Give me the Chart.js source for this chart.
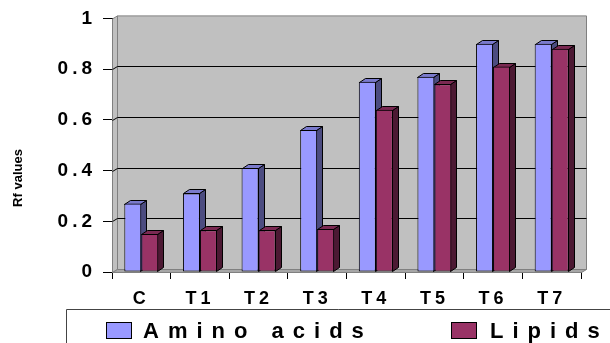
<!DOCTYPE html>
<html>
<head>
<meta charset="utf-8">
<script src="https://cdn.jsdelivr.net/npm/chart.js@4/dist/chart.umd.min.js"></script>
<style>
  html, body { margin: 0; padding: 0; background: #ffffff; }
  #wrap { width: 610px; height: 343px; position: relative; }
</style>
</head>
<body>
<div id="wrap"><canvas id="c" width="610" height="343"></canvas></div>
<script>
// Rf values per treatment
const categories = ['C', 'T1', 'T2', 'T3', 'T4', 'T5', 'T6', 'T7'];
const aminoAcids = [0.27, 0.31, 0.41, 0.56, 0.75, 0.77, 0.90, 0.90];
const lipids     = [0.15, 0.165, 0.165, 0.17, 0.64, 0.74, 0.81, 0.88];
const seriesNames = ['Amino acids', 'Lipids'];
const yTicks = [0, 0.2, 0.4, 0.6, 0.8, 1];

const FONT = '"Liberation Sans", Arial, sans-serif';
const faces = {
  '#9999FF': { side: '#4C4C80', top: '#7A7ACC' },
  '#993366': { side: '#4C1933', top: '#7A2952' }
};
const WALL_DX = 5, WALL_DY = -3;
const BAR_DX = 6, BAR_DY = -4;

function poly(ctx, pts, fill, stroke) {
  ctx.beginPath();
  ctx.moveTo(pts[0][0], pts[0][1]);
  for (let i = 1; i < pts.length; i++) ctx.lineTo(pts[i][0], pts[i][1]);
  ctx.closePath();
  if (fill) { ctx.fillStyle = fill; ctx.fill(); }
  if (stroke) { ctx.strokeStyle = stroke; ctx.lineWidth = 1; ctx.stroke(); }
}

// Walls, floor, gridlines and the 3D sides/tops of the columns
const depthPlugin = {
  id: 'depth',
  beforeDatasetsDraw(chart) {
    const { ctx, chartArea: a, scales: { y } } = chart;
    ctx.save();
    const L = a.left + 0.5, R = a.right + 0.5, T = a.top + 0.5, B = a.bottom + 0.5;
    // side wall
    poly(ctx, [[L, B], [L, T], [L + WALL_DX, T + WALL_DY], [L + WALL_DX, B + WALL_DY]], '#C0C0C0', '#808080');
    // back wall
    poly(ctx, [[L + WALL_DX, T + WALL_DY], [R + WALL_DX, T + WALL_DY], [R + WALL_DX, B + WALL_DY], [L + WALL_DX, B + WALL_DY]], '#C0C0C0', '#808080');
    // floor
    poly(ctx, [[L, B], [L + WALL_DX, B + WALL_DY], [R + WALL_DX, B + WALL_DY], [R, B]], '#A6A6A6', '#808080');
    // gridlines on the back wall
    ctx.strokeStyle = '#000000';
    ctx.lineWidth = 1;
    yTicks.forEach(v => {
      if (v <= 0 || v >= 1) return;
      const py = Math.round(y.getPixelForValue(v)) + 0.5;
      ctx.beginPath();
      ctx.moveTo(L, py);
      ctx.lineTo(L + WALL_DX, py + WALL_DY);
      ctx.lineTo(R + WALL_DX, py + WALL_DY);
      ctx.stroke();
    });
    // column sides and tops, category by category
    const metas = chart.data.datasets.map((d, i) => chart.getDatasetMeta(i));
    categories.forEach((_, idx) => {
      metas.forEach((meta, di) => {
        const el = meta.data[idx];
        if (!el) return;
        const col = faces[chart.data.datasets[di].backgroundColor];
        const l = Math.round(el.x - el.width / 2) + 0.5;
        const r = Math.round(el.x + el.width / 2) - 0.5;
        const t = Math.round(el.y) + 0.5;
        const b = Math.round(el.base) - 0.5;
        poly(ctx, [[r, t], [r + BAR_DX, t + BAR_DY], [r + BAR_DX, b + BAR_DY], [r, b]], col.side, '#000000');
        poly(ctx, [[l, t], [l + BAR_DX, t + BAR_DY], [r + BAR_DX, t + BAR_DY], [r, t]], col.top, '#000000');
      });
    });
    ctx.restore();
  },
  afterDraw(chart) {
    const ctx = chart.ctx;
    ctx.save();
    // axis title
    ctx.translate(18, 178);
    ctx.rotate(-Math.PI / 2);
    ctx.fillStyle = '#000000';
    ctx.font = 'bold 13px ' + FONT;
    ctx.textAlign = 'center';
    ctx.textBaseline = 'middle';
    ctx.fillText('Rf values', 0, 0);
    ctx.restore();

    // legend box
    ctx.save();
    ctx.strokeStyle = '#444444';
    ctx.lineWidth = 1;
    ctx.beginPath();
    ctx.moveTo(66.5, 343);
    ctx.lineTo(66.5, 309.5);
    ctx.lineTo(610, 309.5);
    ctx.stroke();
    const items = [
      { sx: 106, tx: 143 },
      { sx: 451, tx: 490 }
    ];
    ctx.font = 'bold 22px ' + FONT;
    ctx.textBaseline = 'alphabetic';
    ctx.textAlign = 'left';
    try { ctx.letterSpacing = '9px'; } catch (e) {}
    chart.data.datasets.forEach((ds, i) => {
      const it = items[i];
      ctx.fillStyle = ds.backgroundColor;
      ctx.fillRect(it.sx, 322, 26, 17);
      ctx.strokeStyle = '#000000';
      ctx.strokeRect(it.sx + 0.5, 322.5, 25, 16);
      ctx.fillStyle = '#000000';
      ctx.fillText(ds.label, it.tx, 338);
    });
    ctx.restore();
  }
};

// Spaced-out tick labels
const spacedTicks = {
  id: 'spacedTicks',
  beforeDraw(chart) {
    Object.values(chart.scales).forEach(s => {
      if (s._spaced) return;
      const orig = s.drawLabels;
      s.drawLabels = function (area) {
        this.ctx.save();
        try { this.ctx.letterSpacing = '4px'; } catch (e) {}
        orig.call(this, area);
        this.ctx.restore();
      };
      s._spaced = true;
    });
  }
};

new Chart(document.getElementById('c'), {
  type: 'bar',
  data: {
    labels: categories,
    datasets: [
      { label: seriesNames[0], data: aminoAcids, backgroundColor: '#9999FF', borderColor: '#000000', borderWidth: 1, borderSkipped: false },
      { label: seriesNames[1], data: lipids, backgroundColor: '#993366', borderColor: '#000000', borderWidth: 1, borderSkipped: false }
    ]
  },
  options: {
    responsive: false,
    animation: false,
    devicePixelRatio: 1,
    layout: { padding: { left: 0, top: 18, right: 29, bottom: 0 } },
    datasets: { bar: { categoryPercentage: 0.58, barPercentage: 1 } },
    plugins: { legend: { display: false }, tooltip: { enabled: false } },
    scales: {
      x: {
        z: 1,
        afterFit(s) { s.height = 71; },
        border: { display: true, color: '#000000', width: 1 },
        grid: { offset: true, drawOnChartArea: false, drawTicks: true, tickLength: 7, color: '#000000' },
        ticks: { color: '#000000', font: { family: FONT, size: 18, weight: 'bold' }, padding: 9, maxRotation: 0 }
      },
      y: {
        z: 1,
        min: 0,
        max: 1,
        afterFit(s) { s.width = 112; },
        afterBuildTicks(s) { s.ticks = yTicks.map(v => ({ value: v })); },
        border: { display: true, color: '#000000', width: 1 },
        grid: { drawOnChartArea: false, drawTicks: true, tickLength: 9, color: '#000000' },
        ticks: {
          color: '#000000',
          font: { family: FONT, size: 19, weight: 'bold' },
          padding: 7,
          callback: v => (v === 0 || v === 1) ? String(v) : v.toFixed(1)
        }
      }
    }
  },
  plugins: [depthPlugin, spacedTicks]
});
</script>
</body>
</html>
